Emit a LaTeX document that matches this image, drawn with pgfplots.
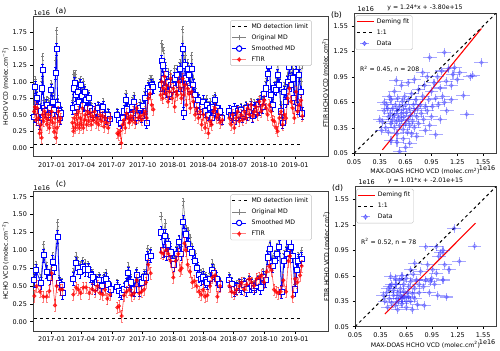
\documentclass[border=0pt]{standalone}
\usepackage{fontspec}
\setmainfont{DejaVu Sans}
\usepackage{pgfplots}
\usepackage{pgfplotstable}
\pgfplotsset{compat=1.18}

% days since 2017-01-01, values in 1e16 molec/cm2
\pgfplotstableread{
d o s
-52 .60 .47
-49 1.03 .92
-45 .85 .75
-40 .70 .62
-37 .45 .37
-33 .62 .55
-29 1.00 .90
-27 1.38 1.18
-23 .72 .60
-19 .65 .55
-15 .73 .65
-10 .72 .50
-5 .70 .60
-1 .98 .88
3 .78 .70
8 .68 .57
12 1.32 1.13
15 1.78 1.50
18 .75 .65
23 .62 .55
26 .52 .45
29 .58 .52
nan nan nan
63 .72 .60
66 1.12 .90
69 1.10 .98
72 1.12 .80
75 .75 .62
79 .95 .85
83 1.00 .70
87 1.03 .95
91 .90 .78
95 1.00 .65
99 .92 .85
103 .82 .72
107 .75 .60
111 .82 .75
115 .68 .60
120 .62 .55
125 .58 .50
130 .62 .58
135 .60 .55
140 .65 .60
145 .57 .52
150 .62 .58
155 .70 .62
160 .55 .50
165 .50 .45
170 .55 .50
175 .48 .43
nan nan nan
197 .55 .50
203 .48 .42
208 .45 .38
213 .50 .45
218 .60 .55
223 .82 .72
227 .65 .58
232 .55 .48
237 .58 .50
242 .72 .62
247 .80 .70
253 .52 .45
260 .60 .50
265 .68 .60
270 .55 .48
275 .70 .63
280 .85 .75
285 .50 .38
290 .98 .90
295 1.05 .85
300 1.05 .95
305 1.00 .92
nan nan nan
327 1.00 .95
330 1.58 1.32
333 1.52 1.25
336 1.48 1.05
339 1.30 .90
342 1.25 1.12
345 1.00 .85
349 1.15 1.00
353 .95 .82
357 1.12 .95
361 .98 .88
365 1.05 .95
369 1.20 1.05
373 1.00 .90
377 1.20 1.10
381 1.05 .95
385 1.30 1.20
389 1.00 .95
393 1.80 1.50
396 1.30 .53
400 1.40 1.25
404 1.20 1.05
408 1.30 1.20
412 1.20 1.10
416 1.00 .90
420 1.40 1.20
425 1.05 .95
430 .90 .80
435 .70 .65
440 .80 .72
445 .65 .55
450 .70 .62
455 .75 .70
460 .65 .55
465 .75 .65
470 .60 .50
475 .70 .60
480 .55 .45
485 .75 .62
490 .80 .72
495 .70 .60
500 .55 .50
505 .60 .55
512 .50 .45
nan nan nan
533 .60 .55
538 .55 .50
543 .52 .48
548 .62 .58
553 .50 .45
558 .60 .55
563 .55 .50
568 .62 .57
573 .52 .48
578 .58 .52
583 .65 .60
588 .55 .50
593 .60 .55
598 .70 .62
603 .55 .48
608 .68 .60
613 .62 .55
618 .70 .65
623 .65 .58
628 .80 .70
633 .72 .62
638 .90 .82
643 1.00 .90
648 1.30 1.12
653 1.32 1.25
658 .88 .80
663 .75 .65
668 .95 .90
673 1.00 .88
678 1.30 1.10
683 1.05 .95
688 .65 .55
693 .45 .38
698 .95 .85
703 .80 .70
708 1.10 1.00
713 1.48 1.22
718 1.10 .95
723 1.20 1.05
728 .85 .75
733 1.25 1.15
738 .70 .60
743 1.30 1.10
748 1.00 .85
752 1.25 .52
}\mda

\pgfplotstableread{
d f
-53 .55
-50 .62
-47 .42
-43 .60
-40 .45
-36 .22
-33 .35
-30 .15
-27 .50
-24 .40
-21 .55
-17 .45
-14 .35
-10 .50
-7 .30
-3 .42
0 .55
3 .38
7 .24
10 .45
13 .15
16 .30
20 .55
23 .40
27 .45
nan nan
62 .38
65 .25
68 .45
71 .30
74 .50
77 .35
80 .55
83 .30
86 .45
89 .35
92 .60
95 .30
98 .42
101 .50
105 .35
108 .55
111 .40
115 .52
118 .35
122 .48
125 .42
129 .55
133 .38
137 .45
141 .35
145 .50
149 .40
153 .48
157 .32
161 .45
165 .38
170 .30
175 .45
nan nan
197 .22
201 .20
205 .25
209 .07
213 .35
217 .42
221 .30
225 .52
229 .45
233 .38
237 .48
241 .42
245 .55
250 .38
255 .60
260 .45
265 .48
270 .42
275 .50
280 .55
285 .45
290 .75
295 .82
300 .65
305 .58
nan nan
327 .80
330 1.00
333 .75
336 .90
339 1.08
342 .82
345 .95
349 .70
353 .85
357 1.05
361 .75
365 .90
369 .62
373 .85
377 .80
381 1.00
385 .90
389 .75
393 1.05
396 .80
400 .95
404 .65
408 .90
412 .82
416 .60
420 .85
425 .70
430 .50
435 .60
440 .45
445 .55
450 .35
455 .50
460 .30
465 .45
470 .22
475 .40
480 .35
485 .55
490 .60
495 .45
500 .50
505 .38
512 .42
nan nan
533 .45
538 .35
543 .50
548 .30
553 .45
558 .55
563 .40
568 .50
573 .42
578 .55
583 .45
588 .60
593 .50
598 .65
603 .48
608 .55
613 .62
618 .50
623 .70
628 .55
633 .65
638 .72
643 .60
648 .50
653 .65
658 .55
663 .42
668 .40
673 .30
678 .25
683 .45
688 .55
693 .35
698 .50
703 .45
708 .75
713 .90
718 .70
723 .60
728 .45
733 .85
738 .55
743 .65
748 .72
752 .48
}\fta

\pgfplotstableread{
d o s
-52 .65 .58
-47 .80 .72
-32 .62 .54
-24 1.08 .93
-15 .78 .70
-5 .68 .61
3 .93 .84
8 .80 .75
18 1.39 1.19
23 .60 .54
30 .56 .51
33 .45 .40
nan nan nan
65 .70 .60
73 .92 .82
78 .85 .75
85 .80 .70
93 .85 .77
100 .82 .73
110 .80 .73
117 .72 .65
123 .68 .62
130 .55 .48
135 .62 .55
143 .65 .58
150 .57 .50
157 .65 .58
163 .68 .60
170 .58 .52
178 .50 .45
nan nan nan
197 .55 .49
203 .48 .43
210 .45 .40
217 .50 .45
225 .58 .52
230 .78 .68
237 .62 .55
243 .52 .46
248 .50 .45
255 .72 .65
263 .52 .45
270 .62 .55
277 .68 .62
283 .68 .62
288 1.02 .90
297 1.00 .92
nan nan nan
328 1.48 1.25
335 1.25 1.00
341 1.38 1.20
345 1.05 .95
350 1.17 1.08
357 1.05 .97
363 .95 .85
367 .90 .80
375 1.05 .95
382 1.15 1.12
388 1.05 .95
395 1.68 1.40
403 1.30 1.22
410 1.28 1.08
415 1.18 1.02
422 1.05 .97
430 .95 .85
437 .80 .75
442 .72 .65
448 .68 .60
455 .70 .62
462 .65 .58
467 .60 .55
475 .68 .60
482 .82 .72
487 .75 .68
495 .65 .60
505 .58 .52
nan nan nan
533 .65 .58
540 .58 .52
548 .52 .45
555 .53 .47
563 .56 .50
570 .54 .48
578 .58 .52
585 .52 .45
593 .60 .55
600 .56 .50
607 .52 .47
613 .56 .50
620 .60 .55
627 .55 .48
635 .70 .62
642 .65 .58
648 1.00 .90
655 1.15 1.02
663 .88 .78
670 .95 .85
677 1.05 .95
683 1.20 1.05
690 .50 .42
697 .95 .85
705 1.05 .95
711 1.35 1.12
717 1.15 1.05
723 1.00 .92
730 .52 .45
735 .80 .72
740 .92 .85
750 1.00 .88
}\mdc

\pgfplotstableread{
d f
-52 .36
-45 .50
-35 .42
-25 .35
-15 .35
-7 .43
0 .68
10 .23
15 .50
25 .45
32 .45
nan nan
65 .38
73 .48
80 .45
87 .40
95 .48
103 .48
113 .40
121 .46
130 .43
138 .50
145 .40
153 .38
160 .45
167 .32
175 .38
nan nan
197 .20
202 .22
210 .08
217 .37
225 .42
233 .45
240 .37
247 .40
255 .58
263 .40
270 .42
277 .45
283 .55
290 .80
297 .68
nan nan
328 .97
335 .95
343 1.00
350 .95
357 .85
365 .62
372 .85
380 .95
385 .72
390 .75
398 1.10
403 1.00
408 .80
415 .70
422 .55
428 .57
435 .50
442 .42
448 .38
455 .45
460 .35
467 .37
475 .50
482 .62
490 .65
497 .35
505 .50
nan nan
533 .50
540 .42
548 .40
555 .45
563 .50
570 .55
578 .45
585 .52
593 .60
600 .55
607 .50
615 .60
623 .62
630 .65
637 .55
645 .70
653 .78
660 .72
667 .45
673 .42
680 .40
687 .42
695 .58
703 .42
710 .85
715 .92
723 .35
730 .60
737 .55
745 .65
750 .78
}\ftc

\pgfplotstableread{
x y
0.38 0.42
0.40 0.55
0.42 0.35
0.43 0.62
0.45 0.48
0.45 0.30
0.47 0.52
0.48 0.40
0.48 0.68
0.50 0.45
0.50 0.58
0.52 0.35
0.52 0.50
0.53 0.62
0.54 0.42
0.55 0.55
0.55 0.28
0.56 0.70
0.57 0.47
0.58 0.38
0.58 0.60
0.60 0.52
0.60 0.44
0.61 0.66
0.62 0.33
0.62 0.57
0.63 0.48
0.64 0.72
0.65 0.40
0.65 0.62
0.66 0.53
0.67 0.30
0.68 0.45
0.68 0.68
0.70 0.58
0.70 0.38
0.71 0.50
0.72 0.75
0.73 0.43
0.74 0.62
0.75 0.55
0.75 0.35
0.77 0.68
0.78 0.48
0.79 0.58
0.80 0.40
0.80 0.80
0.82 0.62
0.83 0.52
0.85 0.72
0.86 0.45
0.87 0.85
0.88 0.60
0.90 0.55
0.90 0.95
0.92 0.68
0.93 0.38
0.95 0.78
0.96 0.60
0.98 0.88
1.00 0.70
1.00 0.27
1.02 0.95
1.03 0.62
1.05 0.82
1.07 1.02
1.08 0.72
1.10 1.24
1.12 0.90
1.13 0.55
1.15 1.05
1.18 0.85
1.20 0.98
1.22 1.06
1.25 0.92
1.28 1.00
1.32 0.73
1.36 0.51
1.40 0.95
1.43 0.97
1.53 1.12
0.93 1.18
0.54 0.91
0.70 0.17
0.58 0.07
0.48 0.20
0.65 0.12
0.78 0.25
0.35 0.45
0.37 0.32
0.40 0.65
0.44 0.58
0.46 0.72
0.52 0.78
0.60 0.85
0.68 0.88
0.75 0.92
0.85 1.00
0.88 0.32
0.62 0.22
0.55 0.18
0.72 0.28
1.05 0.45
1.10 0.65
0.95 0.48
1.18 0.68
}\scb

\pgfplotstableread{
x y
0.40 0.35
0.42 0.45
0.43 0.28
0.45 0.38
0.46 0.52
0.47 0.64
0.48 0.33
0.50 0.42
0.50 0.48
0.52 0.30
0.53 0.55
0.54 0.38
0.55 0.45
0.56 0.35
0.57 0.60
0.58 0.42
0.58 0.50
0.60 0.32
0.60 0.38
0.62 0.47
0.62 0.55
0.63 0.40
0.65 0.35
0.65 0.62
0.66 0.45
0.68 0.52
0.68 0.40
0.70 0.35
0.70 0.58
0.72 0.44
0.73 0.67
0.75 0.50
0.75 0.38
0.77 0.60
0.78 0.31
0.80 0.45
0.80 0.55
0.82 0.70
0.85 0.52
0.86 0.30
0.88 0.60
0.88 0.99
0.90 0.78
0.92 0.45
0.93 0.58
0.95 0.62
0.96 0.72
0.98 0.55
1.00 0.99
1.00 0.68
1.02 0.42
1.03 0.88
1.05 0.92
1.08 0.95
1.08 0.60
1.10 0.78
1.12 0.40
1.15 0.72
1.21 1.21
1.27 0.82
1.45 1.00
0.38 0.42
0.44 0.50
0.52 0.62
0.55 0.25
0.65 0.28
0.72 0.25
0.48 0.55
0.60 0.65
0.70 0.72
0.75 0.80
}\scd

\newcommand{\tfont}{\fontsize{6.5}{7.5}\selectfont}
\newcommand{\lfont}{\fontsize{6.2}{7}\selectfont}

\pgfplotsset{
  base/.style={
    scale only axis, anchor=south west, clip mode=individual,
    tick pos=left, tick align=outside, major tick length=2.5bp,
    tick style={black, line width=0.5pt},
    axis line style={black!75, line width=0.6pt},
    tick label style={font=\tfont},
    label style={font=\lfont},
    /pgf/number format/assume math mode=true,
    yticklabel style={/pgf/number format/.cd, fixed, fixed zerofill, precision=2},
    xticklabel style={/pgf/number format/.cd, fixed, fixed zerofill, precision=2},
    legend style={font=\lfont, draw=black!25, rounded corners=1.5bp,
      fill=white, inner sep=1.2bp, row sep=0.8bp, legend cell align=left},
  },
  ts/.style={base, width=295bp, height=140bp,
    xmin=-56, xmax=829,
    xtick={0,90,181,273,365,455,546,638,730},
    xticklabels={2017-01,2017-04,2017-07,2017-10,2018-01,2018-04,2018-07,2018-10,2019-01},
    ytick={0,0.25,0.5,0.75,1,1.25,1.5,1.75},
    ylabel={HCHO VCD (molec.cm\textsuperscript{−2})},
    ylabel style={yshift=-3bp},
    unbounded coords=jump,
    legend style={at={(0.945,0.975)}, anchor=north east},
  },
  sc/.style={base, width=142bp, height=140bp,
    xmin=0.05, xmax=1.7, ymin=0.05, ymax=1.7,
    xtick={0.05,0.35,0.65,0.95,1.25,1.55},
    ytick={0.05,0.35,0.65,0.95,1.25,1.55},
    xlabel={MAX-DOAS HCHO VCD (molec.cm\textsuperscript{2})},
    ylabel={FTIR HCHO VCD (molec.cm\textsuperscript{2})},
    xlabel style={yshift=3bp},
    ylabel style={yshift=-2bp},
    legend style={at={(0.01,0.985)}, anchor=north west},
  },
  orig/.style={black!50, line width=0.5pt, mark=+, mark size=1.6bp,
    mark options={line width=0.9pt},
    legend image code/.code={
      \draw[black!50, line width=0.6pt] (0cm,0cm) -- (0.5cm,0cm);
      \draw[black!50, line width=0.7pt] (0.25cm,-0.1cm) -- (0.25cm,0.1cm);
      \draw[black!50] plot[mark=+, mark size=1.6bp, mark options={line width=0.9pt}] coordinates {(0.25cm,0cm)};},
    error bars/.cd, y dir=both, y fixed=0.05,
    error bar style={black!50, line width=0.7pt},
    error mark options={rotate=90, mark size=1.1bp, black!50}},
  smoo/.style={blue, line width=0.8pt, mark=none,
    legend image code/.code={
      \draw[blue, line width=0.8pt] (0cm,0cm) -- (0.5cm,0cm);
      \draw[blue, line width=0.7pt] (0.25cm,-0.12cm) -- (0.25cm,0.12cm);
      \draw[blue, line width=1pt, fill=white] (0.25cm,0cm) ++(-2.5bp,-2.5bp) rectangle ++(5bp,5bp);},
    error bars/.cd, y dir=both, y fixed=0.09,
    error bar style={blue, line width=0.7pt},
    error mark options={rotate=90, mark size=1.2bp, blue}},
  smoomk/.style={only marks, forget plot, color=blue, mark=square*, mark size=2.6bp,
    mark options={fill=white, draw=blue, line width=1pt}},
  ftir/.style={red, opacity=0.7, line width=0.6pt, mark=*, mark size=1.8bp,
    legend image code/.code={
      \draw[red!70, line width=0.7pt] (0cm,0cm) -- (0.5cm,0cm);
      \draw[red!70, line width=0.8pt] (0.25cm,-0.1cm) -- (0.25cm,0.1cm);
      \fill[red] (0.25cm,0cm) circle (1.8bp);},
    error bars/.cd, y dir=both, y fixed=0.08,
    error bar style={red, opacity=0.5, line width=0.8pt},
    error mark options={rotate=90, mark size=0.9bp, red}},
  scat/.style={only marks, blue!85, opacity=0.45, mark=o, mark size=1.8bp,
    mark options={line width=0.8pt},
    legend image code/.code={
      \draw[blue!85, opacity=0.45, line width=1pt] (0.1cm,0cm) -- (0.4cm,0cm) (0.25cm,-0.1cm) -- (0.25cm,0.1cm);
      \draw[blue!85, opacity=0.6, line width=0.8pt] (0.25cm,0cm) circle (1.8bp);},
    error bars/.cd, x dir=both, x fixed=0.08, y dir=both, y fixed=0.05,
    error bar style={blue!85, opacity=0.4, line width=1.1pt},
    error mark=none},
  dem/.style={red, line width=1.1pt},
}

\begin{document}
\begin{tikzpicture}
\path[use as bounding box] (0,0) rectangle (500bp,351bp);

% ---------- (a)
\begin{axis}[ts, at={(33bp,194.3bp)}, ymin=-0.137, ymax=1.99]
\addplot[black, dashed, line width=1pt] coordinates {(-52,0.05) (752,0.05)};
\addplot[orig] table[x=d, y=o] {\mda};
\addplot[smoo] table[x=d, y=s] {\mda};
\addplot[smoomk] table[x=d, y=s] {\mda};
\addplot[ftir] table[x=d, y=f] {\fta};
\legend{MD detection limit, Original MD, Smoothed MD, FTIR}
\node[anchor=south west, font=\tfont, inner sep=0.5bp] at (rel axis cs:0,1) {1e16};
\node[anchor=south, font=\fontsize{7.7}{8}\selectfont, inner sep=0.5bp] at (rel axis cs:0.095,1) [yshift=1.5bp] {(a)};
\end{axis}

% ---------- (c)
\begin{axis}[ts, at={(33bp,20bp)}, ymin=-0.13, ymax=1.83]
\addplot[black, dashed, line width=1pt] coordinates {(-52,0.05) (752,0.05)};
\addplot[orig] table[x=d, y=o] {\mdc};
\addplot[smoo] table[x=d, y=s] {\mdc};
\addplot[smoomk] table[x=d, y=s] {\mdc};
\addplot[ftir] table[x=d, y=f] {\ftc};
\legend{MD detection limit, Original MD, Smoothed MD, FTIR}
\node[anchor=south west, font=\tfont, inner sep=0.5bp] at (rel axis cs:0,1) {1e16};
\node[anchor=south, font=\fontsize{7.7}{8}\selectfont, inner sep=0.5bp] at (rel axis cs:0.095,1) [yshift=2.5bp] {(c)};
\end{axis}

% ---------- (b)
\begin{axis}[sc, at={(354bp,197.7bp)}]
\addplot[dem] coordinates {(0.38,0.09) (1.53,1.52)};
\addplot[black, dashed, line width=1pt] coordinates {(0.05,0.05) (1.7,1.7)};
\addplot[scat] table {\scb};
\legend{Deming fit, 1:1, Data}
\node[anchor=west, font=\lfont] at (axis cs:0.08,1.04) {R\textsuperscript{2} = 0.45, n = 208};
\node[anchor=south, font=\lfont, inner sep=0.5bp] at (rel axis cs:0.5,1) [yshift=2bp] {y = 1.24*x + -3.80e+15};
\node[anchor=south west, font=\tfont, inner sep=0.5bp] at (rel axis cs:0.02,1) [yshift=1bp] {1e16};
\node[anchor=north east, font=\tfont, inner sep=0.5bp] at (rel axis cs:1.0,0) [yshift=-12bp] {1e16};
\node[anchor=south east, font=\fontsize{7.7}{8}\selectfont, inner sep=0.5bp] at (rel axis cs:-0.08,1) [yshift=-6bp] {(b)};
\end{axis}

% ---------- (d)
\begin{axis}[sc, at={(355bp,24.3bp)}, width=141bp]
\addplot[dem] coordinates {(0.40,0.20) (1.46,1.27)};
\addplot[black, dashed, line width=1pt] coordinates {(0.05,0.05) (1.7,1.7)};
\addplot[scat] table {\scd};
\legend{Deming fit, 1:1, Data}
\node[anchor=west, font=\lfont] at (axis cs:0.08,1.05) {R\textsuperscript{2} = 0.52, n = 78};
\node[anchor=south, font=\lfont, inner sep=0.5bp] at (rel axis cs:0.5,1) [yshift=2bp] {y = 1.01*x + -2.01e+15};
\node[anchor=south west, font=\tfont, inner sep=0.5bp] at (rel axis cs:0.02,1) [yshift=1bp] {1e16};
\node[anchor=north east, font=\tfont, inner sep=0.5bp] at (rel axis cs:1.0,0) [yshift=-12bp] {1e16};
\node[anchor=south east, font=\fontsize{7.7}{8}\selectfont, inner sep=0.5bp] at (rel axis cs:-0.08,1) [yshift=-6bp] {(d)};
\end{axis}
\end{tikzpicture}
\end{document}
